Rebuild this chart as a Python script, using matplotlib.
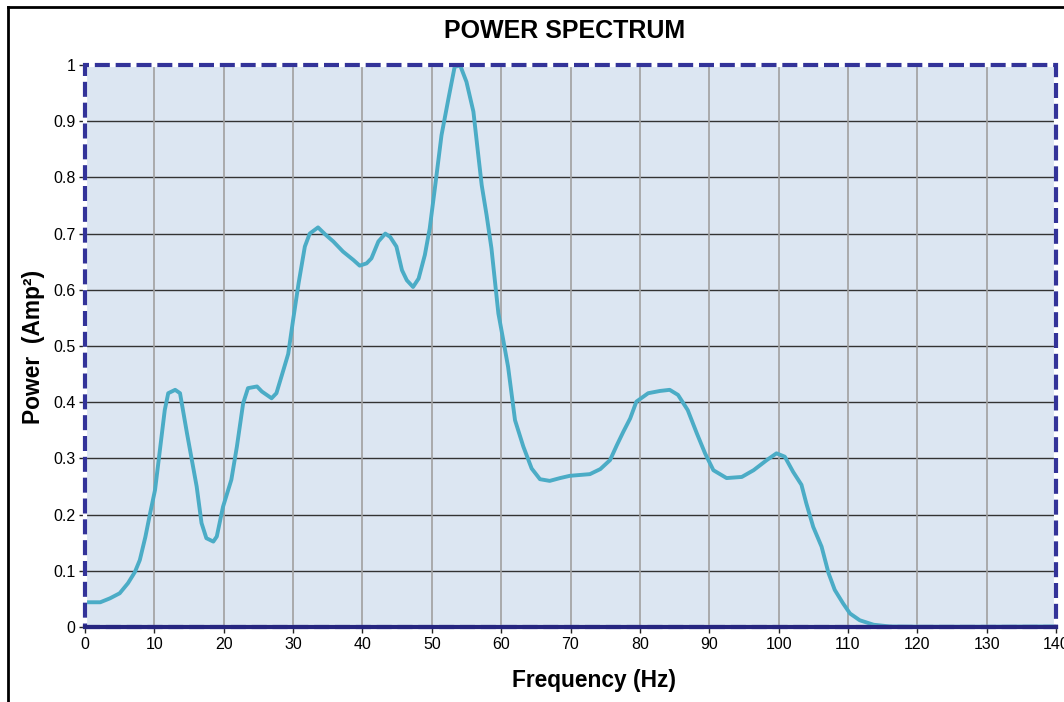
import matplotlib
matplotlib.use("Agg")
import matplotlib.pyplot as plt
from matplotlib.lines import Line2D
from matplotlib.patches import Rectangle

plt.rcParams['font.family'] = ['Liberation Sans', 'DejaVu Sans']

""" Data read off the reference """
freq = [0, 2.2, 3.6, 5.0, 6.2, 7.2, 7.9, 8.7, 9.4, 10.1, 10.8, 11.5, 12.0, 13.0, 13.7,
        14.7, 16.1, 16.8, 17.5, 18.5, 19.0, 19.9, 21.1, 21.9, 22.8, 23.5, 24.8, 25.5,
        26.9, 27.6, 28.6, 29.3, 30.0, 30.8, 31.7, 32.4, 33.6, 34.6, 35.8, 37.2, 38.7,
        39.6, 40.6, 41.3, 42.3, 43.3, 44.0, 44.9, 45.7, 46.4, 47.3, 48.1, 49.0, 49.7,
        50.5, 51.4, 52.4, 53.3, 54.1, 55.0, 56.0, 56.7, 57.2, 57.9, 58.6, 59.6, 60.3,
        61.0, 62.0, 63.2, 64.4, 65.6, 67.0, 68.5, 69.9, 72.8, 74.3, 75.7, 76.7, 77.6,
        78.6, 79.5, 81.2, 82.9, 84.3, 85.5, 86.9, 88.2, 89.4, 90.6, 92.5, 94.7, 96.4,
        98.3, 99.7, 100.9, 102.1, 103.3, 104.0, 105.0, 106.2, 107.2, 108.1, 109.3,
        110.3, 111.7, 113.7, 116.0, 120.0, 130.0, 140.0]
power = [0.044, 0.044, 0.051, 0.060, 0.078, 0.098, 0.119, 0.160, 0.203, 0.244, 0.315,
         0.386, 0.416, 0.422, 0.416, 0.345, 0.250, 0.185, 0.158, 0.152, 0.161, 0.214,
         0.262, 0.321, 0.398, 0.425, 0.428, 0.419, 0.407, 0.416, 0.457, 0.486, 0.546,
         0.612, 0.677, 0.700, 0.711, 0.699, 0.686, 0.668, 0.653, 0.643, 0.647, 0.656,
         0.686, 0.700, 0.694, 0.677, 0.635, 0.617, 0.605, 0.620, 0.662, 0.709, 0.786,
         0.875, 0.940, 0.997, 0.999, 0.970, 0.917, 0.840, 0.786, 0.733, 0.674, 0.558,
         0.511, 0.463, 0.368, 0.321, 0.282, 0.263, 0.260, 0.265, 0.269, 0.272, 0.281,
         0.297, 0.324, 0.347, 0.371, 0.401, 0.416, 0.420, 0.422, 0.413, 0.386, 0.345,
         0.309, 0.279, 0.265, 0.267, 0.279, 0.297, 0.309, 0.303, 0.276, 0.253, 0.220,
         0.178, 0.143, 0.096, 0.066, 0.042, 0.024, 0.012, 0.004, 0.001, 0.0005, 0.0005,
         0.001]

x_ticks = list(range(0, 141, 10))
y_ticks = [0, 0.1, 0.2, 0.3, 0.4, 0.5, 0.6, 0.7, 0.8, 0.9, 1]
y_tick_labels = ['0', '0.1', '0.2', '0.3', '0.4', '0.5', '0.6', '0.7', '0.8', '0.9', '1']

W, H = 1064, 702
fig = plt.figure(figsize=(W / 100, H / 100), dpi=100)
ax = fig.add_axes([85 / W, 1 - 627 / H, (1056 - 85) / W, (627 - 65) / H])
ax.set_facecolor('#DCE6F2')

# grid: dark horizontal, grey vertical
for yv in y_ticks[1:-1]:
    ax.axhline(yv, color='#333333', lw=1.0, zorder=1)
for xv in x_ticks[1:-1]:
    ax.axvline(xv, color='#A0A0A0', lw=1.2, zorder=1)

ax.plot(freq, power, color='#4BACC6', lw=2.8, solid_capstyle='round',
        solid_joinstyle='round', zorder=3)

ax.set_xlim(0, 140)
ax.set_ylim(0, 1)
ax.set_xticks(x_ticks)
ax.set_yticks(y_ticks)
ax.set_yticklabels(y_tick_labels)
ax.tick_params(direction='out', length=4, width=1, colors='#222222',
               labelsize=11.5, labelcolor='black', pad=3)

for s in ax.spines.values():
    s.set_visible(False)

# dashed navy border with white gaps
rect_w = Rectangle((0, 0), 1, 1, transform=ax.transAxes, fill=False,
                   edgecolor='white', lw=3, clip_on=False, zorder=4)
rect_n = Rectangle((0, 0), 1, 1, transform=ax.transAxes, fill=False,
                   edgecolor='#333399', lw=3, linestyle=(0, (3.6, 1.4)),
                   clip_on=False, zorder=5)
ax.add_patch(rect_w)
ax.add_patch(rect_n)
ax.plot([0, 1], [0, 0], transform=ax.transAxes, color='#262680', lw=3,
        clip_on=False, zorder=6)

fig.text(565 / W, 1 - 31 / H, 'POWER SPECTRUM', ha='center', va='center',
         fontsize=18, fontweight='bold')
fig.text(594 / W, 1 - 681 / H, 'Frequency (Hz)', ha='center', va='center',
         fontsize=16.4, fontweight='bold')
fig.text(34 / W, 1 - 347 / H, 'Power  (Amp²)', ha='center', va='center',
         rotation=90, fontsize=16.4, fontweight='bold')

# outer chart frame
fig.add_artist(Line2D([8 / W, 8 / W], [-0.01, 1 - 7 / H], transform=fig.transFigure,
                      color='black', lw=2))
fig.add_artist(Line2D([8 / W, 1.01], [1 - 7 / H, 1 - 7 / H], transform=fig.transFigure,
                      color='black', lw=2))

fig.savefig('out.png', dpi=100)
